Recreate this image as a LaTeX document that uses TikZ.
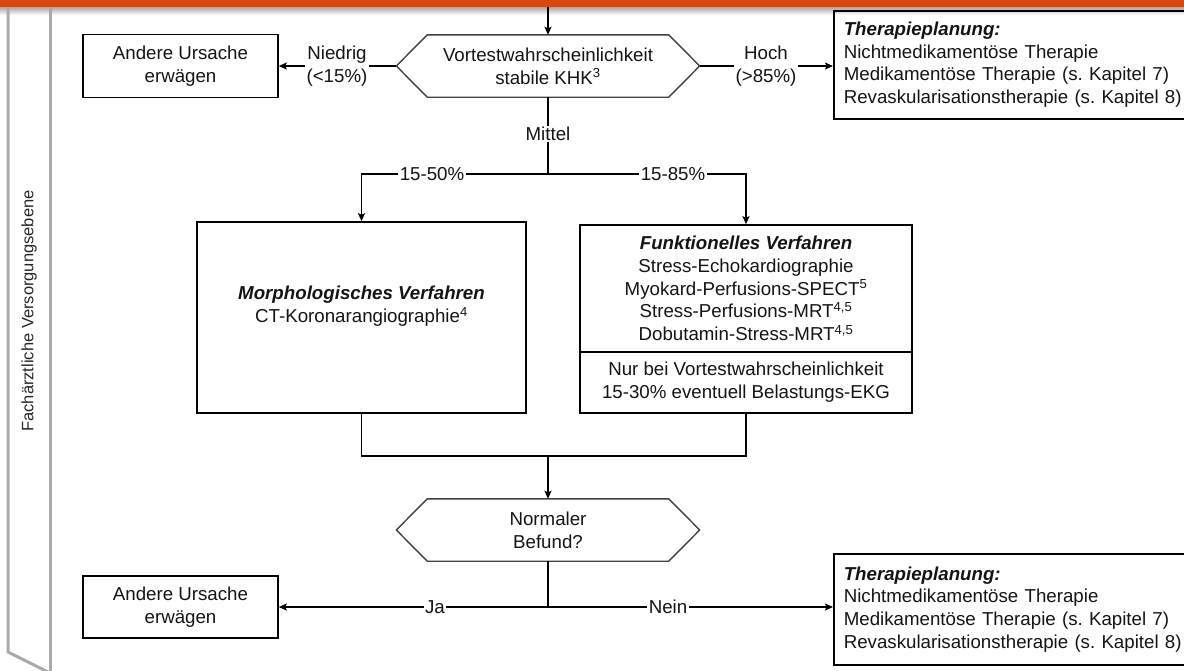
\documentclass[tikz,border=0pt]{standalone}
\usepackage{fontspec}
\setmainfont{Liberation Sans}
\usetikzlibrary{arrows.meta,calc}
\definecolor{barorange}{RGB}{216,72,12}
\definecolor{lanegray}{RGB}{170,170,170}
\newcommand{\mainfs}{\fontsize{18.7}{22.7}\selectfont}
\newcommand{\bi}[1]{\textbf{\textit{#1}}}
\frenchspacing
\begin{document}
\begin{tikzpicture}[x=1pt,y=-1pt,
  every node/.style={font=\mainfs,text=black!92},
  box/.style={draw=black,line width=1.6pt,align=center,inner sep=0pt},
  therbox/.style={draw=black,line width=1.6pt,align=left,text width=360pt,inner xsep=10pt,inner ysep=0pt},
  hexbox/.style={align=center,inner sep=0pt,minimum width=303pt,minimum height=62pt},
  hexline/.style={draw=black!75,line width=1.4pt},
  txt/.style={align=center,inner sep=0pt},
  lbl/.style={fill=white,align=center,inner xsep=1.5pt,inner ysep=1pt},
  conn/.style={draw=black,line width=1.4pt},
  arr/.style={conn,-{Stealth[length=8pt,width=7pt,inset=1.5pt]}}
]
\useasboundingbox (0,0) rectangle (1184,670);
\clip (0,0) rectangle (1184,670);

% shadow under the top bar
\shade[top color=black!35,bottom color=white] (0,7) rectangle (1184,15);

% swimlane
\draw[lanegray,line width=3pt] (8,-5) -- (8,652) -- (54,675);
\draw[lanegray,line width=3pt] (50,-5) -- (50,675);
\node[rotate=90,font=\fontsize{16.5}{20}\selectfont,text=black!85] (lane) at (29,311) {Fachärztliche Versorgungsebene};

% top bar
\fill[barorange] (0,0) rectangle (1184,7);

% first decision
\node[hexbox] (q1) at (548,66) {Vortestwahrscheinlichkeit\\stabile KHK\textsuperscript{3}};
\draw[hexline] (q1.west) -- ([xshift=31pt]q1.north west) -- ([xshift=-31pt]q1.north east) -- (q1.east) -- ([xshift=-31pt]q1.south east) -- ([xshift=31pt]q1.south west) -- cycle;

\node[box,minimum width=195pt,minimum height=63pt] (alt1) at (180.5,66) {Andere Ursache\\erwägen};
\node[therbox,anchor=north west,minimum height=108pt] (ther1) at (833,10) {\bi{Therapieplanung:}\\Nichtmedikamentöse Therapie\\Medikamentöse Therapie (s. Kapitel 7)\\Revaskularisationstherapie (s. Kapitel 8)};

\coordinate (top) at (548,7);
\draw[arr] (top) -- (q1.north);
\draw[arr] (q1.west) -- (alt1.east);
\draw[arr] (q1.east) -- (q1.east -| ther1.west);
\node[lbl] (niedrig) at (337,66) {Niedrig\\(<15\%)};
\node[lbl] (hoch) at (766,66) {Hoch\\(>85\%)};

% middle branch
\coordinate (j1) at (548,174);
\draw[conn] (q1.south) -- (j1);
\node[lbl] (mittel) at (548,134) {Mittel};

\node[box,minimum width=329pt,minimum height=191pt] (morph) at (361.5,317.5) {};
\node[txt] (morphtxt) at (361.5,306.5) {\bi{Morphologisches Verfahren}\\CT-Koronarangiographie\textsuperscript{4}};

\node[box,minimum width=332pt,minimum height=127pt] (functop) at (746,288.5) {\bi{Funktionelles Verfahren}\\Stress-Echokardiographie\\Myokard-Perfusions-SPECT\textsuperscript{5}\\Stress-Perfusions-MRT\textsuperscript{4,5}\\Dobutamin-Stress-MRT\textsuperscript{4,5}};
\node[box,minimum width=332pt,minimum height=61pt] (funcbot) at (746,382.5) {Nur bei Vortestwahrscheinlichkeit\\15-30\% eventuell Belastungs-EKG};

\draw[arr] (j1) -| (morph.north);
\draw[arr] (j1) -| (functop.north);
\node[lbl] (p1) at (432,174) {15-50\%};
\node[lbl] (p2) at (673,174) {15-85\%};

% merge
\coordinate (j2) at (548,456);
\draw[conn] (morph.south) |- (j2) -| (funcbot.south);

% second decision
\node[hexbox] (q2) at (548,530) {Normaler\\Befund?};
\draw[hexline] (q2.west) -- ([xshift=31pt]q2.north west) -- ([xshift=-31pt]q2.north east) -- (q2.east) -- ([xshift=-31pt]q2.south east) -- ([xshift=31pt]q2.south west) -- cycle;
\draw[arr] (j2) -- (q2.north);

\node[box,minimum width=195pt,minimum height=62pt] (alt2) at (180.5,607) {Andere Ursache\\erwägen};
\node[therbox,anchor=north west,minimum height=111pt] (ther2) at (833,553) {\bi{Therapieplanung:}\\Nichtmedikamentöse Therapie\\Medikamentöse Therapie (s. Kapitel 7)\\Revaskularisationstherapie (s. Kapitel 8)};

\coordinate (j3) at (548,607);
\draw[conn] (q2.south) -- (j3);
\draw[arr] (j3) -- (alt2.east);
\draw[arr] (j3) -- (j3 -| ther2.west);
\node[lbl] (ja) at (435,607) {Ja};
\node[lbl] (nein) at (668,607) {Nein};
\end{tikzpicture}
\end{document}
